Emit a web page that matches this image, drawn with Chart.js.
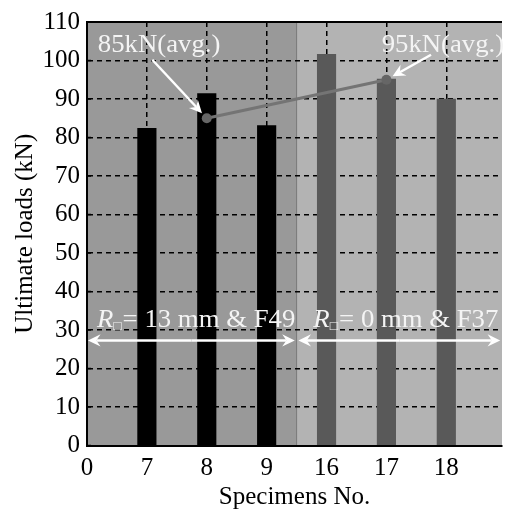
<!DOCTYPE html>
<html>
<head>
<meta charset="utf-8">
<script src="https://cdn.jsdelivr.net/npm/chart.js@4/dist/chart.umd.min.js"></script>
<style>
html, body { margin: 0; padding: 0; background: #fff; }
</style>
</head>
<body>
<canvas id="loadChart" width="507" height="515"></canvas>
<script>
// x positions: tick labels along the axis
const tickLabels = ['0', '7', '8', '9', '16', '17', '18'];
const specimens = ['7', '8', '9', '16', '17', '18'];
const ultimateLoads = [82.4, 91.4, 83.1, 101.6, 95.2, 90.0];
const averageAt = ['8', '17'];
const averageLoads = [85, 95];
const averageLabels = ['85kN(avg.)', '95kN(avg.)'];
const groupLabels = ['= 13 mm & F49', '= 0 mm & F37'];

const serif = "'Liberation Serif', 'Times New Roman', serif";
Chart.defaults.font.family = serif;
Chart.defaults.color = '#000';

const barColors = specimens.map((s, i) => i < 3 ? '#000000' : '#595959');

// text in the reference is a little wider than Liberation Serif
const stretch = 1.07;

const decor = {
    id: 'decor',
    beforeDraw(chart) {
        const { ctx, chartArea: a, scales: { x } } = chart;
        const mid = x.getPixelForValue(3.5);
        ctx.save();
        ctx.fillStyle = '#999999';
        ctx.fillRect(a.left, a.top, mid - a.left, a.bottom - a.top);
        ctx.fillStyle = '#b3b3b3';
        ctx.fillRect(mid, a.top, a.right - mid, a.bottom - a.top);
        ctx.strokeStyle = '#777';
        ctx.lineWidth = 1;
        ctx.beginPath();
        ctx.moveTo(mid, a.top);
        ctx.lineTo(mid, a.bottom);
        ctx.stroke();
        ctx.restore();
    },
    afterDraw(chart) {
        const { ctx, chartArea: a, scales: { x, y } } = chart;
        ctx.save();
        // top frame and small inward ticks on y axis
        ctx.strokeStyle = '#000';
        ctx.lineWidth = 2;
        ctx.beginPath();
        ctx.moveTo(a.left, a.top);
        ctx.lineTo(a.right, a.top);
        ctx.stroke();
        ctx.lineWidth = 1.5;
        y.ticks.forEach(t => {
            const py = y.getPixelForValue(t.value);
            ctx.beginPath();
            ctx.moveTo(a.left, py);
            ctx.lineTo(a.left + 4, py);
            ctx.stroke();
        });

        ctx.strokeStyle = '#fff';
        ctx.textBaseline = 'middle';

        // average labels with arrows
        const labelPos = [[0.18, 104], [4.92, 104]];
        const arrowFrom = [[1.09, 100.2], [5.745, 101.5]];
        averageLabels.forEach((txt, i) => {
            wideText(ctx, txt, x.getPixelForValue(labelPos[i][0]), y.getPixelForValue(labelPos[i][1]), '25px ' + serif);
            const px = x.getPixelForValue(tickLabels.indexOf(averageAt[i]));
            const py = y.getPixelForValue(averageLoads[i]);
            const sx = x.getPixelForValue(arrowFrom[i][0]);
            const sy = y.getPixelForValue(arrowFrom[i][1]);
            const ang = Math.atan2(py - sy, px - sx);
            const ex = px - 7 * Math.cos(ang), ey = py - 7 * Math.sin(ang);
            arrow(ctx, sx, sy, ex, ey, 14);
        });

        // group labels with double arrows
        const groupX = [[0.165, 0.016, 3.47], [3.78, 3.53, 6.9]];
        groupLabels.forEach((txt, i) => {
            const tx = x.getPixelForValue(groupX[i][0]);
            const ty = y.getPixelForValue(32.4);
            let w = wideText(ctx, 'R', tx, ty, 'italic 25px ' + serif);
            w += wideText(ctx, '\u25A1', tx + w, ty + 6, '13px ' + serif) + 1;
            wideText(ctx, txt, tx + w, ty, '25px ' + serif);
            const ay = y.getPixelForValue(27.3);
            const x1 = x.getPixelForValue(groupX[i][1]);
            const x2 = x.getPixelForValue(groupX[i][2]);
            arrow(ctx, (x1 + x2) / 2, ay, x1, ay, 14);
            arrow(ctx, (x1 + x2) / 2, ay, x2, ay, 14);
        });
        ctx.restore();
    }
};

function wideText(ctx, txt, tx, ty, font) {
    ctx.save();
    ctx.font = font;
    ctx.fillStyle = '#f4f4f4';
    ctx.translate(tx, ty);
    ctx.scale(stretch, 1);
    ctx.fillText(txt, 0, 0);
    const w = ctx.measureText(txt).width * stretch;
    ctx.restore();
    return w;
}

function arrow(ctx, x1, y1, x2, y2, size) {
    const ang = Math.atan2(y2 - y1, x2 - x1);
    const bx = x2 - size * 0.6 * Math.cos(ang);
    const by = y2 - size * 0.6 * Math.sin(ang);
    ctx.lineWidth = 2.5;
    ctx.beginPath();
    ctx.moveTo(x1, y1);
    ctx.lineTo(bx, by);
    ctx.stroke();
    ctx.fillStyle = '#fff';
    ctx.beginPath();
    ctx.moveTo(x2, y2);
    ctx.lineTo(x2 - size * Math.cos(ang - 0.45), y2 - size * Math.sin(ang - 0.45));
    ctx.lineTo(bx, by);
    ctx.lineTo(x2 - size * Math.cos(ang + 0.45), y2 - size * Math.sin(ang + 0.45));
    ctx.closePath();
    ctx.fill();
}

const tickFont = { family: serif, size: 25 };

const ctx = document.getElementById('loadChart').getContext('2d');

const myChart = new Chart(ctx, {
    type: 'bar',
    data: {
        datasets: [{
            type: 'line',
            data: averageAt.map((s, i) => ({ x: tickLabels.indexOf(s), y: averageLoads[i] })),
            borderColor: '#747474',
            borderWidth: 3,
            pointRadius: 5,
            pointBackgroundColor: '#666666',
            pointBorderWidth: 0,
            order: 0
        }, {
            data: specimens.map((s, i) => ({ x: tickLabels.indexOf(s), y: ultimateLoads[i] })),
            backgroundColor: barColors,
            barThickness: 18.5,
            order: 1
        }]
    },
    options: {
        responsive: false,
        animation: false,
        devicePixelRatio: 1,
        layout: { padding: { top: 20, right: 0, left: 0, bottom: 0 } },
        plugins: { legend: { display: false }, tooltip: { enabled: false } },
        scales: {
            x: {
                type: 'linear',
                offset: false,
                min: 0,
                max: 6.93,
                afterFit: s => { s.height = 69.5; },
                ticks: {
                    stepSize: 1,
                    includeBounds: false,
                    autoSkip: false,
                    maxRotation: 0,
                    padding: 8,
                    font: tickFont,
                    callback: v => tickLabels[v] ?? ''
                },
                grid: { offset: false, color: '#000', lineWidth: 1.5, drawTicks: false },
                border: { color: '#000', width: 2, dash: [5, 4], z: 1 },
                title: { display: true, text: 'Specimens No.', font: tickFont, padding: { top: 0, bottom: 3 } }
            },
            y: {
                min: 0,
                max: 110,
                afterFit: s => { s.width = 87; },
                ticks: { stepSize: 10, padding: 7, font: tickFont },
                grid: { color: '#000', lineWidth: 1.5, drawTicks: false },
                border: { color: '#000', width: 2, dash: [5, 4], z: 1 },
                title: { display: true, text: 'Ultimate loads (kN)', font: tickFont, padding: { top: 10, bottom: 0 } }
            }
        }
    },
    plugins: [decor]
});
</script>
</body>
</html>
